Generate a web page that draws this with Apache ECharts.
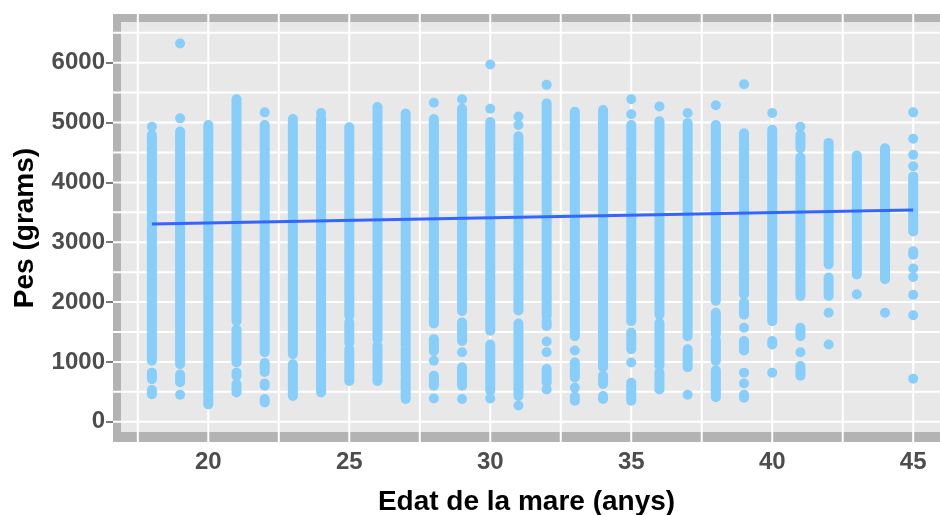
<!DOCTYPE html>
<html>
<head>
<meta charset="utf-8">
<script src="https://cdn.jsdelivr.net/npm/echarts@6/dist/echarts.min.js"></script>
<style>
html,body{margin:0;padding:0;background:#ffffff;}
#c{width:940px;height:515px;}
</style>
</head>
<body>
<div id="c"></div>
<script>
// ---- data ----
const xTicks = [20, 25, 30, 35, 40, 45];
const yTicks = [0, 1000, 2000, 3000, 4000, 5000, 6000];
const xGridValues = [17.5, 20, 22.5, 25, 27.5, 30, 32.5, 35, 37.5, 40, 42.5, 45];
const yGridValues = [0, 500, 1000, 1500, 2000, 2500, 3000, 3500, 4000, 4500, 5000, 5500, 6000, 6500];

// continuous runs of overlapping points: [age, lowest weight, highest weight]
const runs = [
  [18, 1020, 4790], [18, 710, 820], [18, 460, 530],
  [19, 960, 4850], [19, 660, 790],
  [20, 290, 4960],
  [21, 1680, 5390], [21, 990, 1540], [21, 770, 820], [21, 490, 630],
  [22, 1160, 4960], [22, 830, 980], [22, 600, 640], [22, 320, 380],
  [23, 1130, 5060], [23, 430, 960],
  [24, 1180, 5070], [24, 490, 1130],
  [25, 1770, 4920], [25, 1320, 1660], [25, 680, 1210],
  [26, 1380, 5260], [26, 680, 1270],
  [27, 1270, 5150], [27, 770, 1210], [27, 380, 710],
  [28, 1640, 5060], [28, 1180, 1380], [28, 600, 770],
  [29, 1850, 5230], [29, 1350, 1660], [29, 600, 910],
  [30, 1520, 5010], [30, 520, 1290],
  [31, 1860, 4770], [31, 430, 1640],
  [32, 1770, 5320], [32, 1600, 1680], [32, 660, 880],
  [33, 1430, 5180], [33, 740, 990], [33, 350, 420],
  [34, 910, 5210], [34, 630, 770], [34, 380, 430],
  [35, 1680, 4960], [35, 1210, 1490], [35, 350, 650],
  [36, 1790, 5020], [36, 1290, 1650], [36, 930, 1240], [36, 540, 820],
  [37, 1430, 4990], [37, 910, 1210],
  [38, 2020, 4960], [38, 1460, 1820], [38, 1020, 1360], [38, 410, 860],
  [39, 2130, 4820], [39, 1790, 1990], [39, 1190, 1350], [39, 400, 450],
  [40, 1680, 4880], [40, 1290, 1350],
  [41, 4570, 4790], [41, 2100, 4420], [41, 1430, 1570], [41, 770, 930],
  [42, 2630, 4660], [42, 2100, 2410],
  [43, 2460, 4450],
  [44, 2380, 4570],
  [45, 3180, 4100], [45, 2790, 2850]
];

// isolated points: [age, weight]
const singles = [
  [18, 4930],
  [19, 6320], [19, 5070], [19, 450],
  [22, 5170],
  [24, 5160],
  [28, 5330], [28, 1020], [28, 390],
  [29, 5390], [29, 1160], [29, 380],
  [30, 5970], [30, 5230], [30, 390],
  [31, 5100], [31, 4960], [31, 270],
  [32, 5630], [32, 1340], [32, 1160], [32, 540],
  [33, 1190], [33, 570],
  [35, 5390], [35, 5140], [35, 990],
  [36, 5270],
  [37, 5160], [37, 450],
  [38, 5290],
  [39, 5640], [39, 1570], [39, 820], [39, 640],
  [40, 5160], [40, 820],
  [41, 4930], [41, 1160],
  [42, 1820], [42, 1290],
  [43, 2130],
  [44, 1820],
  [45, 5170], [45, 4730], [45, 4460], [45, 4270], [45, 2560], [45, 2420], [45, 2120], [45, 1780], [45, 720]
];

// fitted regression line
const fitAges = [18, 45];
const fitWeights = [3306, 3539];

// ---- chart ----
const POINT = '#87CEFA';
const chart = echarts.init(document.getElementById('c'), null, {renderer: 'canvas'});

const tickLabel = {color: '#4d4d4d', fontSize: 24, fontWeight: 'bold', fontFamily: 'Liberation Sans, Arial, sans-serif'};
const titleText = {color: '#000000', fontSize: 28, fontWeight: 'bold', fontFamily: 'Liberation Sans, Arial, sans-serif'};
const plain = function (v) { return String(v); };

const option = {
  animation: false,
  grid: {left: 113, top: 14, width: 827, height: 428, show: false,
         containLabel: false, outerBoundsMode: 'none'},
  xAxis: {
    type: 'value', min: 16.62, max: 45.95,
    axisLine: {show: false},
    axisTick: {show: true, length: 6, customValues: xTicks, lineStyle: {color: '#4d4d4d', width: 1.5}},
    axisLabel: Object.assign({customValues: xTicks, margin: 8, formatter: plain}, tickLabel),
    splitLine: {show: false},
    name: 'Edat de la mare (anys)', nameLocation: 'middle', nameGap: 46,
    nameTextStyle: titleText
  },
  yAxis: {
    type: 'value', min: -339, max: 6814,
    axisLine: {show: false},
    axisTick: {show: true, length: 7, customValues: yTicks, lineStyle: {color: '#4d4d4d', width: 1.5}},
    axisLabel: Object.assign({customValues: yTicks, margin: 8, formatter: plain}, tickLabel),
    splitLine: {show: false},
    name: 'Pes (grams)', nameLocation: 'middle', nameGap: 74, nameRotate: 90,
    nameTextStyle: titleText
  },
  series: [
    {
      type: 'custom', z: 1, silent: true, clip: false,
      data: [[18, 0]],
      renderItem: function (params, api) {
        const cs = params.coordSys;
        const children = [{
          type: 'rect',
          shape: {x: cs.x, y: cs.y, width: cs.width + 20, height: cs.height},
          style: {fill: '#b3b3b3'}
        }, {
          type: 'rect',
          shape: {x: cs.x + 8, y: cs.y + 8, width: cs.width + 20, height: cs.height - 18},
          style: {fill: '#e8e8e8'}
        }];
        xGridValues.forEach(function (v) {
          const p = api.coord([v, 0])[0];
          children.push({type: 'line', shape: {x1: p, y1: cs.y, x2: p, y2: cs.y + cs.height},
            style: {stroke: '#ffffff', lineWidth: 2}});
        });
        yGridValues.forEach(function (v) {
          const p = api.coord([18, v])[1];
          children.push({type: 'line', shape: {x1: cs.x, y1: p, x2: cs.x + cs.width + 20, y2: p},
            style: {stroke: '#ffffff', lineWidth: 2}});
        });
        return {type: 'group', children: children};
      }
    },
    {
      type: 'custom', z: 3, silent: true,
      data: runs,
      encode: {x: 0, y: [1, 2]},
      renderItem: function (params, api) {
        const a = api.coord([api.value(0), api.value(1)]);
        const b = api.coord([api.value(0), api.value(2)]);
        return {type: 'line', shape: {x1: a[0], y1: a[1], x2: b[0], y2: b[1]},
          style: {stroke: POINT, lineWidth: 10, lineCap: 'round'}};
      }
    },
    {
      type: 'scatter', z: 3, silent: true,
      data: singles, symbolSize: 10,
      itemStyle: {color: POINT, opacity: 1}
    },
    {
      type: 'line', z: 5, silent: true,
      data: fitAges.map(function (a, i) { return [a, fitWeights[i]]; }),
      showSymbol: false, symbol: 'none',
      lineStyle: {color: '#3366ff', width: 3}
    }
  ]
};
chart.setOption(option);
</script>
</body>
</html>
